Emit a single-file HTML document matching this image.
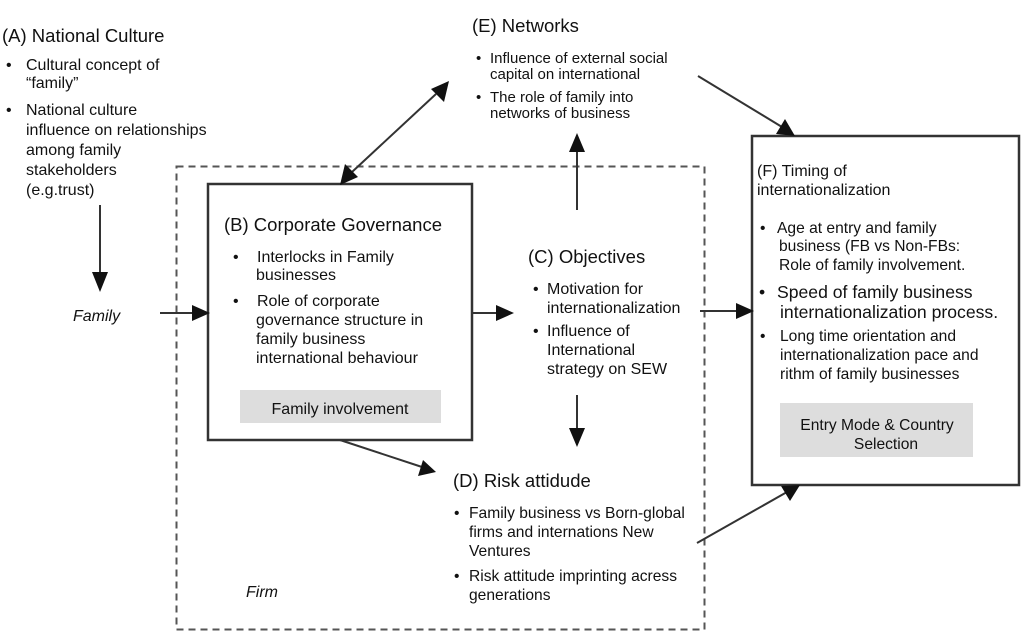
<!DOCTYPE html>
<html><head><style>
html,body{margin:0;padding:0;background:#fff;}
svg{display:block;font-family:"Liberation Sans",Arial,sans-serif;fill:#111;}
text{font-size:16px;}
.h{font-size:18.5px;}
.s15 text{font-size:15px;}
.s155 text{font-size:15.6px;}
.s17 text{font-size:17.6px;}
</style></head><body>
<svg width="1024" height="635" viewBox="0 0 1024 635">
<g fill="none">
<rect x="176.5" y="166.5" width="528" height="463" stroke="#555" stroke-width="2" stroke-dasharray="7,5"/>
<rect x="208" y="184" width="264" height="256" stroke="#333" stroke-width="2.5" fill="#fff"/>
<rect x="752" y="136" width="267" height="349" stroke="#333" stroke-width="2.5" fill="#fff"/>
</g>
<rect x="240" y="390" width="201" height="33" fill="#ddd"/>
<rect x="780" y="403" width="193" height="54" fill="#ddd"/>
<g stroke="#333" stroke-width="2" fill="none">
<line x1="100" y1="205" x2="100" y2="272"/>
<path d="M92,272 L108,272 L100,292 z" fill="#111" stroke="none"/>
<line x1="160" y1="313" x2="192" y2="313"/>
<path d="M192,305 L192,321 L210,313 z" fill="#111" stroke="none"/>
<line x1="472" y1="313" x2="496" y2="313"/>
<path d="M496,305 L496,321 L514,313 z" fill="#111" stroke="none"/>
<line x1="700" y1="311" x2="736" y2="311"/>
<path d="M736,303 L736,319 L754,311 z" fill="#111" stroke="none"/>
<line x1="577" y1="210" x2="577" y2="150"/>
<path d="M569,152 L585,152 L577,133 z" fill="#111" stroke="none"/>
<line x1="577" y1="395" x2="577" y2="430"/>
<path d="M569,428 L585,428 L577,447 z" fill="#111" stroke="none"/>
<line x1="352" y1="172" x2="436" y2="94"/>
<path d="M340,185 L345,164 L358,177 z" fill="#111" stroke="none"/>
<path d="M449,81 L444,102 L431,89 z" fill="#111" stroke="none"/>
<line x1="340" y1="440" x2="422" y2="467"/>
<path d="M436,472 L418,476 L423,460 z" fill="#111" stroke="none"/>
<line x1="698" y1="76" x2="782" y2="127"/>
<path d="M795,136 L776,134 L785,119 z" fill="#111" stroke="none"/>
<line x1="697" y1="543" x2="787" y2="492"/>
<path d="M800,485 L790,501 L781,486 z" fill="#111" stroke="none"/>
</g>
<text x="2" y="42" class="h">(A) National Culture</text>
<text x="6" y="70">•</text><text x="26" y="70">Cultural concept of</text>
<text x="26" y="88">“family”</text>
<text x="6" y="115">•</text><text x="26" y="115">National culture</text>
<text x="26" y="135">influence on relationships</text>
<text x="26" y="155">among family</text>
<text x="26" y="175">stakeholders</text>
<text x="26" y="195">(e.g.trust)</text>
<text x="73" y="321" font-style="italic">Family</text>
<text x="472" y="32" class="h">(E) Networks</text>
<g class="s15">
<text x="476" y="63">•</text><text x="490" y="63">Influence of external social</text>
<text x="490" y="79">capital on international</text>
<text x="476" y="102">•</text><text x="490" y="102">The role of family into</text>
<text x="490" y="118">networks of business</text>
</g>
<text x="224" y="231" class="h">(B) Corporate Governance</text>
<text x="233" y="262">•</text><text x="257" y="262">Interlocks in Family</text>
<text x="256" y="280">businesses</text>
<text x="233" y="306">•</text><text x="257" y="306">Role of corporate</text>
<text x="256" y="325">governance structure in</text>
<text x="256" y="344">family business</text>
<text x="256" y="363">international behaviour</text>
<text x="340" y="414" text-anchor="middle">Family involvement</text>
<text x="528" y="263" class="h">(C) Objectives</text>
<text x="533" y="294">•</text><text x="547" y="294">Motivation for</text>
<text x="547" y="313">internationalization</text>
<text x="533" y="336">•</text><text x="547" y="336">Influence of</text>
<text x="547" y="355">International</text>
<text x="547" y="374">strategy on SEW</text>
<text x="453" y="487" class="h">(D) Risk attidude</text>
<g class="s155">
<text x="454" y="518">•</text><text x="469" y="518">Family business vs Born-global</text>
<text x="469" y="537">firms and internations New</text>
<text x="469" y="556">Ventures</text>
<text x="454" y="581">•</text><text x="469" y="581">Risk attitude imprinting acress</text>
<text x="469" y="600">generations</text>
</g>
<text x="246" y="597" font-style="italic">Firm</text>
<text x="757" y="176">(F) Timing of</text>
<text x="757" y="195">internationalization</text>
<g class="s155">
<text x="760" y="233">•</text><text x="777" y="233">Age at entry and family</text>
<text x="779" y="251">business (FB vs Non-FBs:</text>
<text x="779" y="270">Role of family involvement.</text>
</g>
<g class="s17">
<text x="759" y="298">•</text><text x="777" y="298">Speed of family business</text>
<text x="780" y="318">internationalization process.</text>
</g>
<g class="s155">
<text x="760" y="341">•</text><text x="780" y="341">Long time orientation and</text>
<text x="780" y="360">internationalization pace and</text>
<text x="780" y="379">rithm of family businesses</text>
<text x="877" y="430" text-anchor="middle">Entry Mode &amp; Country</text>
<text x="886" y="449" text-anchor="middle">Selection</text>
</g>
</svg>
</body></html>
